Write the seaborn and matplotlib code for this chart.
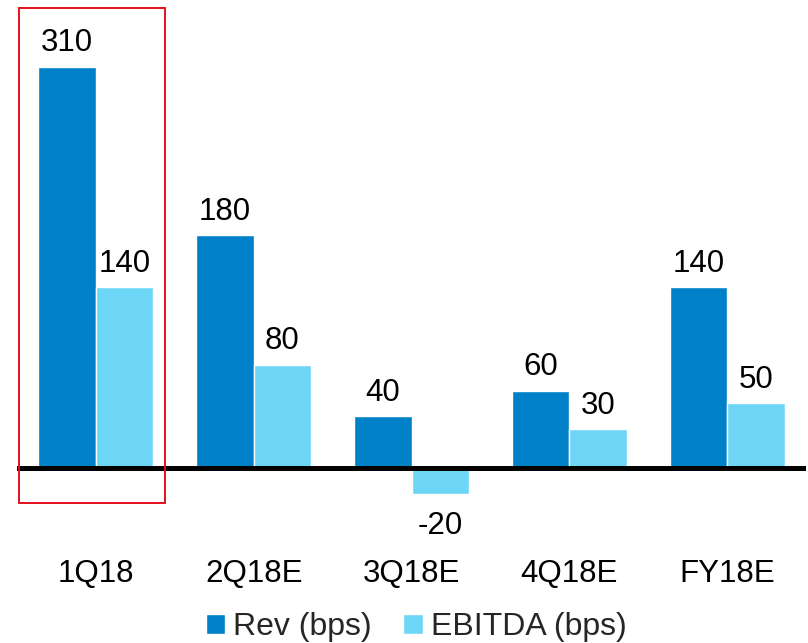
import matplotlib
matplotlib.use("Agg")
import matplotlib.pyplot as plt
import pandas as pd
import seaborn as sns
from matplotlib.patches import Rectangle

# values
periods = ["1Q18", "2Q18E", "3Q18E", "4Q18E", "FY18E"]
rev_bps = [310, 180, 40, 60, 140]
ebitda_bps = [140, 80, -20, 30, 50]
series_names = ["Rev (bps)", "EBITDA (bps)"]
colors = ["#0080C6", "#6DD6F7"]

df = pd.DataFrame({
    "period": periods * 2,
    "series": [series_names[0]] * len(periods) + [series_names[1]] * len(periods),
    "bps": rev_bps + ebitda_bps,
})

sns.set_theme(style="white")
plt.rcParams["font.family"] = ["Liberation Sans", "DejaVu Sans"]

fig = plt.figure(figsize=(8.08, 6.43), dpi=100)
ax = fig.add_axes([17 / 808, 1 - 520 / 643, 789 / 808, 518 / 643])

sns.barplot(data=df, x="period", y="bps", hue="series", order=periods,
            hue_order=series_names, palette=colors, width=0.73,
            saturation=1, ax=ax, errorbar=None, legend=True)

# positive labels sit close above the bar, negative ones a bit further below
for cont in ax.containers:
    vals = [int(round(v)) for v in cont.datavalues]
    ax.bar_label(cont, labels=[str(v) if v >= 0 else "" for v in vals],
                 padding=6, fontsize=22.5, color="black")
    ax.bar_label(cont, labels=[str(v) if v < 0 else "" for v in vals],
                 padding=12, fontsize=22.5, color="black")

ax.set_xlim(-0.5, 4.5)
ax.set_ylim(-40, 360)
ax.axhline(0, color="black", lw=3.6, zorder=5)

for s in ax.spines.values():
    s.set_visible(False)
ax.set_yticks([])
ax.set_xlabel("")
ax.set_ylabel("")
ax.tick_params(axis="x", length=0, pad=28, labelsize=22.5, labelcolor="black")

# red highlight box around the first period
ax.add_patch(Rectangle((-0.49, -26.5), 0.93, 382, fill=False,
                       edgecolor="#E3101B", lw=1.4, clip_on=False, zorder=6))

handles, labels = ax.get_legend_handles_labels()
ax.legend_.remove()
fig.legend(handles, labels, loc="center", bbox_to_anchor=(416 / 808, 1 - 627 / 643),
           ncol=2, frameon=False, fontsize=23, handlelength=0.6, handleheight=0.6,
           handletextpad=0.25, columnspacing=1.0, borderaxespad=0)

fig.savefig("out.png", dpi=100)
